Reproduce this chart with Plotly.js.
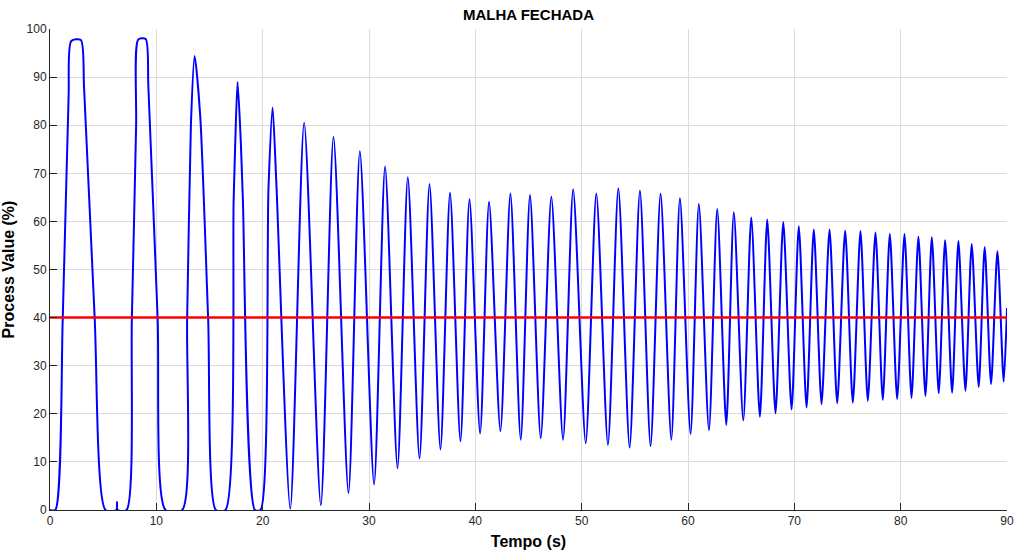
<!DOCTYPE html>
<html>
<head>
<meta charset="utf-8">
<script src="https://cdn.plot.ly/plotly-3.0.1.min.js"></script>
<style>
html,body{margin:0;padding:0;background:#fff;}
#chart{width:1024px;height:559px;}
</style>
</head>
<body>
<div id="chart"></div>
<script>
// Process value readings (time in s, value in %)
const tempo = [0, 0.5, 1.2, 1.75, 2.0, 2.9, 3.2, 4.2, 5.22,
  6.25, 6.3, 6.35, 7.2, 7.7, 8.1, 8.3, 9.0, 9.25, 10.12, 10.86,
  12.43, 12.9, 13.25, 13.6, 14.13, 14.87, 15.6,
  16.5, 17.27, 17.42, 17.64, 17.95, 18.14, 19.27, 19.8, 20.55, 20.93, 21.3, 22.6,
  23.9, 25.47, 26.66, 28.07, 29.14, 30.48, 31.51, 32.68, 33.65, 34.75, 35.69, 36.72, 37.62, 38.6, 39.45, 40.45,
  41.29, 42.36, 43.3, 44.27, 45.14, 46.15, 47.15, 48.25, 49.2, 50.38, 51.38, 52.47, 53.45, 54.51, 55.48, 56.48,
  57.42, 58.43, 59.24, 60.24, 61.02, 61.97, 62.75, 63.6, 64.31, 65.2, 65.95, 66.76, 67.45, 68.23, 68.96, 69.74,
  70.42, 71.15, 71.83, 72.56, 73.31, 74.03, 74.78, 75.5, 76.22, 76.91, 77.63, 78.32, 78.98, 79.67, 80.36, 81.02,
  81.67, 82.33, 82.93, 83.58, 84.18, 84.84, 85.43, 86.09, 86.68, 87.34, 87.9, 88.5, 89.1, 89.69, 90];
const processValue = [0, 0, 40, 86, 97.5, 97.7, 88, 40, 0,
  0, 1.6, 0, 0, 40, 80, 97.8, 97.9, 88, 40, 0,
  0, 40, 80, 94.4, 81.8, 40, 0,
  0, 64.4, 76.2, 89.0, 76.2, 64.4, 0, 0, 67.2, 83.7, 67.2, 0.3,
  80.5, 1.0, 77.6, 3.5, 74.6, 5.3, 71.4, 8.7, 69.2, 10.7, 67.8, 12.6, 66.0, 14.3, 64.6, 15.9,
  64.1, 16.4, 65.8, 14.6, 65.5, 14.9, 65.1, 14.6, 66.7, 13.9, 65.8, 13.5, 66.9, 13.0, 66.4, 13.3,
  65.8, 14.6, 64.8, 15.8, 63.6, 16.6, 62.6, 17.7, 61.9, 18.6, 60.8, 19.4, 60.4, 20.1, 59.9, 20.9,
  59.0, 21.3, 58.3, 22.0, 58.3, 22.2, 58.1, 22.3, 58.0, 22.7, 57.7, 22.9, 57.4, 23.1, 57.4, 23.3,
  56.8, 23.7, 56.7, 24.3, 56.1, 24.4, 55.9, 24.8, 55.3, 25.6, 54.7, 26.2, 53.8, 26.7, 42];
// Setpoint
const setpointTempo = [0, 90];
const setpointValue = [40, 40];

const xTicks = [0, 10, 20, 30, 40, 50, 60, 70, 80, 90];
const yTicks = [0, 10, 20, 30, 40, 50, 60, 70, 80, 90, 100];

const fontFam = 'Liberation Sans, Arial, Helvetica, sans-serif';

const traces = [
  {
    x: tempo, y: processValue, type: 'scatter', mode: 'lines',
    line: {color: '#0000ff', width: 2, shape: 'spline', smoothing: 0.7},
    hoverinfo: 'skip', showlegend: false
  },
  {
    x: setpointTempo, y: setpointValue, type: 'scatter', mode: 'lines',
    line: {color: '#ff0000', width: 2.5},
    hoverinfo: 'skip', showlegend: false
  }
];

const axisCommon = {
  showline: true, linecolor: '#262626', linewidth: 1,
  ticks: 'inside', ticklen: 7, tickcolor: '#262626', tickwidth: 1,
  showgrid: true, gridcolor: '#dcdcdc', gridwidth: 1,
  zeroline: false, mirror: false,
  tickfont: {family: fontFam, size: 12, color: '#262626'}
};

const layout = {
  width: 1024, height: 559,
  paper_bgcolor: '#ffffff', plot_bgcolor: '#ffffff',
  margin: {l: 50, r: 17, t: 29, b: 49},
  title: {text: '<b>MALHA FECHADA</b>', x: 0.5, xref: 'paper', xanchor: 'center', y: 0.973, yanchor: 'middle',
          font: {family: fontFam, size: 15, color: '#000000'}},
  xaxis: Object.assign({}, axisCommon, {
    range: [0, 90], tickvals: xTicks, ticktext: xTicks.map(String),
    title: {text: '<b>Tempo (s)</b>', standoff: 8, font: {family: fontFam, size: 16, color: '#000000'}}
  }),
  yaxis: Object.assign({}, axisCommon, {
    range: [0, 100], tickvals: yTicks, ticktext: yTicks.map(String),
    title: {text: '<b>Process Value (%)</b>', standoff: 12, font: {family: fontFam, size: 16, color: '#000000'}}
  }),
  showlegend: false
};

Plotly.newPlot('chart', traces, layout, {staticPlot: true, displayModeBar: false});
</script>
</body>
</html>
